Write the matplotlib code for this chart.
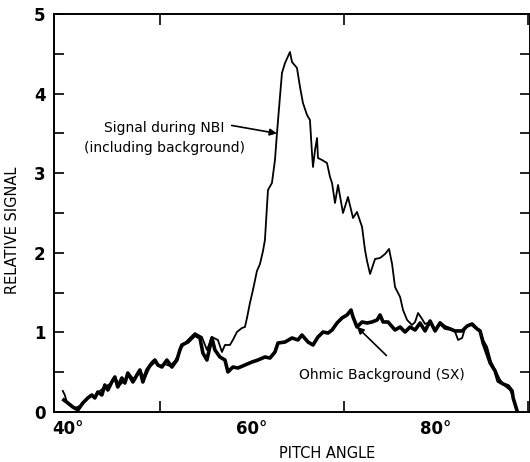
import matplotlib
matplotlib.use("Agg")
import matplotlib.pyplot as plt
from matplotlib.ticker import MultipleLocator, FixedLocator

# Pitch-angle scans of the relative signal
nbi_angle = [39.46, 39.67, 39.89, 40.22, 40.76, 41.30, 41.85, 42.39, 42.93, 43.48,
             44.02, 44.57, 45.11, 45.65, 46.20, 46.74, 47.28, 47.83, 48.37, 48.91,
             49.46, 50.00, 50.54, 51.09, 51.63, 52.17, 52.39, 53.04, 53.80, 54.57,
             55.11, 55.65, 56.30, 56.74, 57.07, 57.61, 57.93, 58.37, 58.91, 59.24,
             59.46, 59.78, 60.11, 60.54, 60.87, 61.20, 61.41, 61.74, 62.17, 62.50,
             62.72, 63.04, 63.26, 63.59, 64.13, 64.35, 64.89, 65.22, 65.54, 65.98,
             66.30, 66.52, 66.63, 66.85, 67.07, 67.17, 67.61, 68.15, 68.48, 68.70,
             69.02, 69.35, 69.89, 70.43, 70.98, 71.41, 71.96, 72.28, 72.50, 72.83,
             73.37, 73.91, 74.46, 74.89, 75.22, 75.54, 76.09, 76.41, 76.85, 77.39,
             77.72, 78.04, 78.48, 78.80, 79.35, 79.89, 80.43, 80.98, 81.52, 82.07,
             82.39, 82.83, 83.15, 83.70, 84.24, 84.78, 85.11, 85.54, 85.98, 86.41,
             86.96, 87.50, 88.04, 88.37, 88.80]
nbi_signal = [0.264, 0.214, 0.126, 0.101, 0.050, 0.075, 0.138, 0.201, 0.188, 0.264,
              0.314, 0.352, 0.427, 0.339, 0.402, 0.465, 0.402, 0.515, 0.427, 0.565,
              0.628, 0.578, 0.603, 0.578, 0.641, 0.754, 0.817, 0.905, 0.992, 0.942,
              0.779, 0.942, 0.905, 0.754, 0.842, 0.842, 0.905, 1.005, 1.055, 1.068,
              1.181, 1.369, 1.533, 1.771, 1.859, 2.023, 2.161, 2.789, 2.877, 3.166,
              3.505, 3.957, 4.259, 4.384, 4.523, 4.397, 4.322, 4.083, 3.882, 3.731,
              3.668, 3.254, 3.078, 3.291, 3.442, 3.191, 3.166, 3.128, 2.952, 2.877,
              2.626, 2.852, 2.500, 2.701, 2.437, 2.513, 2.324, 2.035, 1.897, 1.734,
              1.922, 1.935, 1.985, 2.048, 1.859, 1.570, 1.445, 1.281, 1.156, 1.093,
              1.131, 1.244, 1.168, 1.106, 1.131, 1.030, 1.131, 1.080, 1.055, 1.005,
              0.905, 0.930, 1.055, 1.106, 1.055, 1.030, 0.905, 0.817, 0.628, 0.528,
              0.402, 0.327, 0.276, 0.188, 0.013]

ohmic_angle = [39.57, 40.00, 40.54, 41.09, 41.63, 42.17, 42.61, 42.93, 43.26, 43.70,
               44.02, 44.35, 44.78, 45.11, 45.43, 45.87, 46.20, 46.52, 47.07, 47.50,
               47.83, 48.15, 48.59, 49.13, 49.46, 49.78, 50.22, 50.76, 51.30, 51.85,
               52.17, 52.39, 53.04, 53.80, 54.35, 54.67, 55.11, 55.65, 55.98, 56.52,
               57.07, 57.39, 57.93, 58.48, 59.24, 60.00, 60.65, 61.41, 61.96, 62.50,
               62.83, 63.59, 64.35, 65.00, 65.43, 66.09, 66.63, 67.17, 67.72, 68.26,
               68.70, 69.24, 69.78, 70.33, 70.76, 70.98, 71.41, 71.96, 72.50, 73.04,
               73.59, 73.91, 74.24, 74.78, 75.54, 76.09, 76.63, 77.17, 77.72, 78.26,
               78.80, 79.35, 79.89, 80.43, 80.98, 81.52, 82.07, 82.83, 83.37, 83.91,
               84.46, 84.78, 85.11, 85.54, 85.87, 86.41, 86.74, 87.28, 87.83, 88.26,
               88.37, 88.80]
ohmic_signal = [0.151, 0.113, 0.063, 0.025, 0.113, 0.176, 0.214, 0.176, 0.251, 0.214,
                0.339, 0.276, 0.377, 0.440, 0.314, 0.427, 0.364, 0.490, 0.377, 0.465,
                0.528, 0.377, 0.528, 0.616, 0.653, 0.590, 0.565, 0.653, 0.565, 0.653,
                0.779, 0.842, 0.879, 0.967, 0.930, 0.741, 0.653, 0.930, 0.779, 0.691,
                0.653, 0.503, 0.565, 0.553, 0.590, 0.628, 0.653, 0.691, 0.678, 0.754,
                0.867, 0.879, 0.930, 0.905, 0.967, 0.879, 0.842, 0.942, 1.005, 0.992,
                1.030, 1.118, 1.181, 1.219, 1.281, 1.193, 1.068, 1.131, 1.118, 1.131,
                1.156, 1.219, 1.131, 1.131, 1.030, 1.068, 1.005, 1.068, 1.030, 1.118,
                1.018, 1.143, 1.018, 1.118, 1.055, 1.043, 1.018, 1.018, 1.080, 1.106,
                1.043, 1.018, 0.867, 0.729, 0.616, 0.515, 0.389, 0.352, 0.327, 0.264,
                0.176, 0.013]

x_ticks = [40, 60, 80]
x_tick_labels = ["40°", "60°", "80°"]
y_ticks = [0, 1, 2, 3, 4, 5]
y_tick_labels = ["0", "1", "2", "3", "4", "5"]

fig = plt.figure(figsize=(5.30, 4.62), dpi=100)
ax = fig.add_axes([54 / 530, 50 / 462, 476 / 530, 398 / 462])

ax.plot(nbi_angle, nbi_signal, color="black", lw=1.3, solid_joinstyle="round")
ax.plot(ohmic_angle, ohmic_signal, color="black", lw=2.6, solid_joinstyle="round")

ax.set_xlim(38.5, 90.2)
ax.set_ylim(0, 5)

ax.xaxis.set_major_locator(FixedLocator(x_ticks))
ax.set_xticklabels(x_tick_labels)
ax.xaxis.set_minor_locator(MultipleLocator(10))
ax.set_yticks(y_ticks)
ax.set_yticklabels(y_tick_labels)
ax.yaxis.set_minor_locator(MultipleLocator(0.5))

ax.tick_params(which="both", direction="in", top=True, right=True,
               width=1.2, labelsize=12, pad=6)
ax.tick_params(which="major", length=7)
ax.tick_params(which="minor", length=7)
ax.tick_params(axis="x", which="major", length=0)
ax.tick_params(axis="x", which="minor", length=8)
for lab in ax.get_xticklabels() + ax.get_yticklabels():
    lab.set_fontweight("bold")

for side in ["left", "bottom", "top", "right"]:
    ax.spines[side].set_linewidth(1.4)

ax.set_xlabel("PITCH ANGLE", fontsize=10.5)
ax.xaxis.set_label_coords((327 - 54) / 476, -0.085)
ax.set_ylabel("RELATIVE SIGNAL", fontsize=10.5)
ax.yaxis.set_label_coords(-0.072, (412 - 230) / 398)

ax.annotate("", xy=(62.7, 3.50), xytext=(57.8, 3.60),
            arrowprops=dict(arrowstyle="-|>", color="black", lw=1.2,
                            mutation_scale=10, shrinkA=0, shrinkB=0))
ax.text(50.5, 3.57, "Signal during NBI", fontsize=10, ha="center", va="center")
ax.text(50.5, 3.32, "(including background)", fontsize=10, ha="center", va="center")

ax.annotate("", xy=(71.4, 1.07), xytext=(74.6, 0.71),
            arrowprops=dict(arrowstyle="-|>", color="black", lw=1.2,
                            mutation_scale=10, shrinkA=0, shrinkB=0))
ax.text(74.1, 0.465, "Ohmic Background (SX)", fontsize=10, ha="center", va="center")

fig.savefig("out.png", dpi=100)
